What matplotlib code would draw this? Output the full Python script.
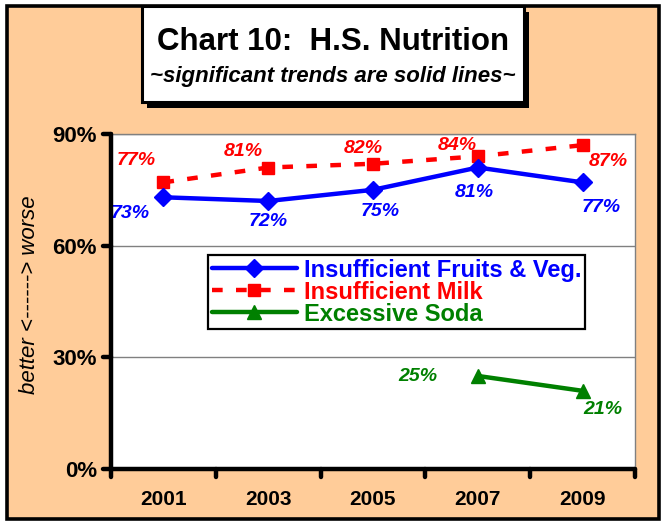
import matplotlib
matplotlib.use("Agg")
import matplotlib.pyplot as plt
from matplotlib.patches import Rectangle
from matplotlib.markers import MarkerStyle
import matplotlib.lines as mlines
import numpy as np

# ---- data ----
years = ["2001", "2003", "2005", "2007", "2009"]
fruits_veg = [73, 72, 75, 81, 77]
milk = [77, 81, 82, 84, 87]
soda = [np.nan, np.nan, np.nan, 25, 21]
y_ticks = [0, 30, 60, 90]
series_names = ["Insufficient Fruits & Veg.", "Insufficient Milk", "Excessive Soda"]

# ---- style ----
BLUE, RED, GREEN = "#0000FF", "#FF0000", "#008000"
ORANGE = "#FFCC99"
FONT = "Liberation Sans"
plt.rcParams["font.family"] = [FONT, "DejaVu Sans"]

W, H = 663, 522
fig = plt.figure(figsize=(W / 100, H / 100), dpi=100)
fig.patch.set_facecolor("white")

def fx(px):
    return px / W

def fy(py):
    return 1 - py / H

# outer orange frame
fig.patches.append(Rectangle((fx(6.5), fy(518.5)), fx(658.5) - fx(6.5), fy(5.5) - fy(518.5),
                             transform=fig.transFigure, facecolor=ORANGE,
                             edgecolor="black", linewidth=2.6, zorder=-2))

# title box with shadow
bx0, bx1, by0, by1 = 141.5, 524, 6, 101.5
fig.patches.append(Rectangle((fx(bx0 + 5), fy(by1 + 6)), fx(bx1) - fx(bx0), fy(by0) - fy(by1),
                             transform=fig.transFigure, facecolor="black",
                             edgecolor="black", linewidth=0, zorder=1))
fig.patches.append(Rectangle((fx(bx0), fy(by1)), fx(bx1) - fx(bx0), fy(by0) - fy(by1),
                             transform=fig.transFigure, facecolor="white",
                             edgecolor="black", linewidth=2.2, zorder=2))
fig.text(fx(333), fy(50), "Chart 10:  H.S. Nutrition", ha="center", va="baseline",
         fontsize=22.5, fontweight="bold", color="black", zorder=3)
fig.text(fx(333), fy(82), "~significant trends are solid lines~", ha="center", va="baseline",
         fontsize=16, fontweight="bold", fontstyle="italic", color="black", zorder=3)

# axes
ax = fig.add_axes([fx(111), fy(469), fx(635) - fx(111), fy(134) - fy(469)])
ax.set_zorder(5)
ax.set_facecolor("white")
x = np.arange(len(years))

ax.plot(x, fruits_veg, color=BLUE, lw=3.2, marker="D", ms=9, mfc=BLUE, mec=BLUE,
        label=series_names[0], zorder=5, solid_capstyle="round")
ax.plot(x, milk, color=RED, lw=3.2, ls=(0, (2.4, 3.0)), marker="s", ms=9, mfc=RED, mec=RED,
        label=series_names[1], zorder=4)
ax.plot(x, soda, color=GREEN, lw=3.2, marker="^", ms=10, mfc=GREEN, mec=GREEN,
        label=series_names[2], zorder=5, solid_capstyle="round")

# data labels (offsets in pixels; +dy = downward)
fruit_off = [(-33, 16), (0, 21), (7, 22), (-4, 25), (19, 25)]
milk_off = [(-27, -22), (-25, -16), (-10, -15), (-21, -11), (26, 16)]
soda_off = [None, None, None, (-60, 1), (20, 19)]
lab_kw = dict(textcoords="offset pixels", ha="center", va="center",
              fontsize=14, fontweight="bold", fontstyle="italic", zorder=6)
for i, v in enumerate(fruits_veg):
    dx, dy = fruit_off[i]
    ax.annotate(f"{v}%", (x[i], v), xytext=(dx, -dy), color=BLUE, **lab_kw)
for i, v in enumerate(milk):
    dx, dy = milk_off[i]
    ax.annotate(f"{v}%", (x[i], v), xytext=(dx, -dy), color=RED, **lab_kw)
for i, v in enumerate(soda):
    if not np.isnan(v):
        dx, dy = soda_off[i]
        ax.annotate(f"{int(v)}%", (x[i], v), xytext=(dx, -dy), color=GREEN, **lab_kw)

ax.set_xlim(-0.5, len(years) - 0.5)
ax.set_ylim(0, 90)
ax.set_yticks(y_ticks)
ax.set_yticklabels([f"{t}%" for t in y_ticks], fontsize=16, fontweight="bold")
ax.set_xticks(np.arange(-0.5, len(years), 1.0))
ax.set_xticklabels([])
ax.set_xticks(x, minor=True)
ax.set_xticklabels(years, minor=True, fontsize=15, fontweight="bold")
ax.tick_params(axis="x", which="minor", length=0, pad=15)
ax.tick_params(axis="x", which="major", length=6, width=3.2, direction="out", color="black")
ax.tick_params(axis="y", which="major", length=6, width=3.2, direction="out", color="black", pad=4)

for t in ax.yaxis.get_major_ticks():
    t.tick1line.set_marker(MarkerStyle(mlines.TICKLEFT, capstyle="round"))
for t in ax.xaxis.get_major_ticks():
    t.tick1line.set_marker(MarkerStyle(mlines.TICKDOWN, capstyle="round"))

ax.grid(axis="y", color="#808080", lw=1.0)
ax.set_axisbelow(True)
for s in ["top", "right"]:
    ax.spines[s].set_color("#808080")
    ax.spines[s].set_linewidth(1.0)
for s in ["left", "bottom"]:
    ax.spines[s].set_color("black")
    ax.spines[s].set_linewidth(3.2)
    ax.spines[s].set_capstyle("round")
    ax.spines[s].set_zorder(7)

fig.text(fx(30), fy(295), "better <------> worse", rotation=90, ha="center", va="center",
         fontsize=16, fontstyle="italic", color="black")

leg = ax.legend(loc="upper left", bbox_to_anchor=(fx(208), fy(255)), bbox_transform=fig.transFigure,
                frameon=True, fancybox=False, edgecolor="black", facecolor="white",
                framealpha=1, prop=dict(family=FONT, weight="bold", size=17),
                handlelength=3.6, handletextpad=0.3, labelspacing=-0.04, borderpad=0.15,
                borderaxespad=0, markerscale=1.0)
leg.get_frame().set_linewidth(1.6)
for txt, c in zip(leg.get_texts(), [BLUE, RED, GREEN]):
    txt.set_color(c)
leg.set_zorder(8)

fig.savefig("out.png", dpi=100, facecolor=fig.get_facecolor())
